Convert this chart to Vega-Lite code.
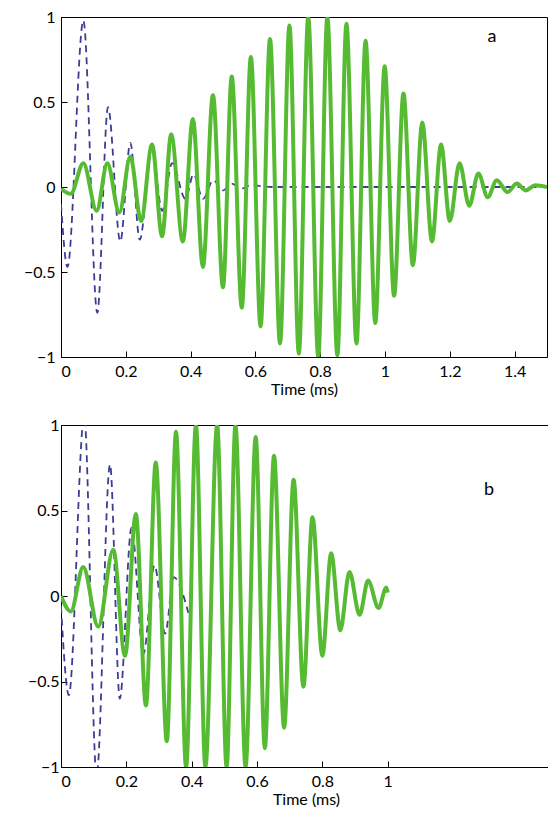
{
  "$schema": "https://vega.github.io/schema/vega-lite/v6.json",
  "padding": {"top": 8, "left": 22, "right": 0, "bottom": 5},
  "background": "white",
  "config": {
    "font": "Lato",
    "view": {"stroke": "black", "strokeWidth": 1},
    "axis": {"labelFont": "Lato", "labelFontSize": 16, "labelColor": "black", "titleFont": "Lato", "titleFontSize": 16, "titleFontWeight": "normal", "titleColor": "black", "grid": false, "tickColor": "black", "domainColor": "black", "tickSize": -6, "labelPadding": 12, "titlePadding": 2, "format": "~g"}
  },
  "datasets": {
    "waves": [
      {"p": "a", "s": "green", "t": 0, "v": -0.01},
      {"p": "a", "s": "green", "t": 0.03, "v": -0.04},
      {"p": "a", "s": "green", "t": 0.069, "v": 0.14},
      {"p": "a", "s": "green", "t": 0.11, "v": -0.14},
      {"p": "a", "s": "green", "t": 0.143, "v": 0.14},
      {"p": "a", "s": "green", "t": 0.18, "v": -0.15},
      {"p": "a", "s": "green", "t": 0.214, "v": 0.18},
      {"p": "a", "s": "green", "t": 0.247, "v": -0.2},
      {"p": "a", "s": "green", "t": 0.281, "v": 0.25},
      {"p": "a", "s": "green", "t": 0.312, "v": -0.29},
      {"p": "a", "s": "green", "t": 0.34, "v": 0.31},
      {"p": "a", "s": "green", "t": 0.376, "v": -0.32},
      {"p": "a", "s": "green", "t": 0.407, "v": 0.4},
      {"p": "a", "s": "green", "t": 0.438, "v": -0.47},
      {"p": "a", "s": "green", "t": 0.469, "v": 0.54},
      {"p": "a", "s": "green", "t": 0.5, "v": -0.59},
      {"p": "a", "s": "green", "t": 0.527, "v": 0.65},
      {"p": "a", "s": "green", "t": 0.558, "v": -0.71},
      {"p": "a", "s": "green", "t": 0.586, "v": 0.765},
      {"p": "a", "s": "green", "t": 0.616, "v": -0.82},
      {"p": "a", "s": "green", "t": 0.645, "v": 0.87},
      {"p": "a", "s": "green", "t": 0.676, "v": -0.92},
      {"p": "a", "s": "green", "t": 0.705, "v": 0.95},
      {"p": "a", "s": "green", "t": 0.734, "v": -0.98},
      {"p": "a", "s": "green", "t": 0.763, "v": 1.0},
      {"p": "a", "s": "green", "t": 0.794, "v": -1.0},
      {"p": "a", "s": "green", "t": 0.822, "v": 1.0},
      {"p": "a", "s": "green", "t": 0.853, "v": -0.99},
      {"p": "a", "s": "green", "t": 0.881, "v": 0.96},
      {"p": "a", "s": "green", "t": 0.912, "v": -0.92},
      {"p": "a", "s": "green", "t": 0.94, "v": 0.86},
      {"p": "a", "s": "green", "t": 0.97, "v": -0.8},
      {"p": "a", "s": "green", "t": 0.999, "v": 0.71},
      {"p": "a", "s": "green", "t": 1.028, "v": -0.64},
      {"p": "a", "s": "green", "t": 1.057, "v": 0.55},
      {"p": "a", "s": "green", "t": 1.086, "v": -0.46},
      {"p": "a", "s": "green", "t": 1.115, "v": 0.38},
      {"p": "a", "s": "green", "t": 1.145, "v": -0.32},
      {"p": "a", "s": "green", "t": 1.173, "v": 0.25},
      {"p": "a", "s": "green", "t": 1.2, "v": -0.2},
      {"p": "a", "s": "green", "t": 1.23, "v": 0.14},
      {"p": "a", "s": "green", "t": 1.26, "v": -0.11},
      {"p": "a", "s": "green", "t": 1.288, "v": 0.08},
      {"p": "a", "s": "green", "t": 1.317, "v": -0.06},
      {"p": "a", "s": "green", "t": 1.345, "v": 0.04},
      {"p": "a", "s": "green", "t": 1.378, "v": -0.03},
      {"p": "a", "s": "green", "t": 1.407, "v": 0.02},
      {"p": "a", "s": "green", "t": 1.434, "v": -0.02},
      {"p": "a", "s": "green", "t": 1.464, "v": 0.01},
      {"p": "a", "s": "green", "t": 1.5, "v": 0},
      {"p": "a", "s": "blue", "t": 0, "v": -0.1},
      {"p": "a", "s": "blue", "t": 0.02, "v": -0.47},
      {"p": "a", "s": "blue", "t": 0.069, "v": 0.98},
      {"p": "a", "s": "blue", "t": 0.112, "v": -0.74},
      {"p": "a", "s": "blue", "t": 0.145, "v": 0.47},
      {"p": "a", "s": "blue", "t": 0.183, "v": -0.32},
      {"p": "a", "s": "blue", "t": 0.214, "v": 0.26},
      {"p": "a", "s": "blue", "t": 0.243, "v": -0.31},
      {"p": "a", "s": "blue", "t": 0.281, "v": 0.23},
      {"p": "a", "s": "blue", "t": 0.312, "v": -0.14},
      {"p": "a", "s": "blue", "t": 0.343, "v": 0.14},
      {"p": "a", "s": "blue", "t": 0.384, "v": -0.07},
      {"p": "a", "s": "blue", "t": 0.409, "v": 0.075},
      {"p": "a", "s": "blue", "t": 0.438, "v": -0.07},
      {"p": "a", "s": "blue", "t": 0.47, "v": 0.04},
      {"p": "a", "s": "blue", "t": 0.5, "v": -0.02},
      {"p": "a", "s": "blue", "t": 0.527, "v": 0.02},
      {"p": "a", "s": "blue", "t": 0.556, "v": -0.01},
      {"p": "a", "s": "blue", "t": 0.586, "v": 0.01},
      {"p": "a", "s": "blue", "t": 0.65, "v": 0},
      {"p": "a", "s": "blue", "t": 1.5, "v": 0},
      {"p": "b", "s": "green", "t": 0, "v": 0},
      {"p": "b", "s": "green", "t": 0.03, "v": -0.09},
      {"p": "b", "s": "green", "t": 0.068, "v": 0.17},
      {"p": "b", "s": "green", "t": 0.114, "v": -0.18},
      {"p": "b", "s": "green", "t": 0.16, "v": 0.27},
      {"p": "b", "s": "green", "t": 0.196, "v": -0.35},
      {"p": "b", "s": "green", "t": 0.229, "v": 0.48},
      {"p": "b", "s": "green", "t": 0.26, "v": -0.64},
      {"p": "b", "s": "green", "t": 0.29, "v": 0.78},
      {"p": "b", "s": "green", "t": 0.324, "v": -0.85},
      {"p": "b", "s": "green", "t": 0.352, "v": 0.96},
      {"p": "b", "s": "green", "t": 0.383, "v": -1.0},
      {"p": "b", "s": "green", "t": 0.413, "v": 1.0},
      {"p": "b", "s": "green", "t": 0.442, "v": -1.0},
      {"p": "b", "s": "green", "t": 0.478, "v": 1.0},
      {"p": "b", "s": "green", "t": 0.507, "v": -1.0},
      {"p": "b", "s": "green", "t": 0.534, "v": 1.0},
      {"p": "b", "s": "green", "t": 0.565, "v": -1.0},
      {"p": "b", "s": "green", "t": 0.596, "v": 0.93},
      {"p": "b", "s": "green", "t": 0.624, "v": -0.89},
      {"p": "b", "s": "green", "t": 0.652, "v": 0.82},
      {"p": "b", "s": "green", "t": 0.683, "v": -0.77},
      {"p": "b", "s": "green", "t": 0.712, "v": 0.68},
      {"p": "b", "s": "green", "t": 0.742, "v": -0.53},
      {"p": "b", "s": "green", "t": 0.77, "v": 0.46},
      {"p": "b", "s": "green", "t": 0.8, "v": -0.35},
      {"p": "b", "s": "green", "t": 0.827, "v": 0.25},
      {"p": "b", "s": "green", "t": 0.855, "v": -0.2},
      {"p": "b", "s": "green", "t": 0.883, "v": 0.14},
      {"p": "b", "s": "green", "t": 0.914, "v": -0.11},
      {"p": "b", "s": "green", "t": 0.94, "v": 0.09},
      {"p": "b", "s": "green", "t": 0.972, "v": -0.07},
      {"p": "b", "s": "green", "t": 0.996, "v": 0.05},
      {"p": "b", "s": "green", "t": 1.0, "v": 0.02},
      {"p": "b", "s": "blue", "t": 0, "v": -0.06},
      {"p": "b", "s": "blue", "t": 0.024, "v": -0.58},
      {"p": "b", "s": "blue", "t": 0.071, "v": 1.05},
      {"p": "b", "s": "blue", "t": 0.109, "v": -1.05},
      {"p": "b", "s": "blue", "t": 0.15, "v": 0.77},
      {"p": "b", "s": "blue", "t": 0.18, "v": -0.6},
      {"p": "b", "s": "blue", "t": 0.216, "v": 0.4},
      {"p": "b", "s": "blue", "t": 0.252, "v": -0.34},
      {"p": "b", "s": "blue", "t": 0.286, "v": 0.18},
      {"p": "b", "s": "blue", "t": 0.319, "v": -0.22},
      {"p": "b", "s": "blue", "t": 0.345, "v": 0.11},
      {"p": "b", "s": "blue", "t": 0.39, "v": -0.1}
    ],
    "tags": [
      {"p": "a", "t": 1.33, "v": 0.88, "label": "a"},
      {"p": "b", "t": 1.31, "v": 0.62, "label": "b"}
    ]
  },
  "spacing": 18,
  "vconcat": [
    {
      "width": 486,
      "height": 340,
      "layer": [
        {
          "data": {"name": "waves"},
          "transform": [{"filter": "datum.p == 'a' && datum.s == 'blue'"}],
          "mark": {"type": "line", "color": "#3d3d94", "strokeWidth": 1.8, "strokeDash": [7, 5], "interpolate": "monotone", "clip": true},
          "encoding": {
            "x": {"field": "t", "type": "quantitative", "scale": {"domain": [0, 1.5], "nice": false}, "axis": {"title": "Time (ms)", "values": [0, 0.2, 0.4, 0.6, 0.8, 1, 1.2, 1.4]}},
            "y": {"field": "v", "type": "quantitative", "scale": {"domain": [-1, 1], "nice": false}, "axis": {"title": null, "values": [-1, -0.5, 0, 0.5, 1]}}
          }
        },
        {
          "data": {"name": "waves"},
          "transform": [{"filter": "datum.p == 'a' && datum.s == 'green'"}],
          "mark": {"type": "line", "color": "#56bb33", "strokeWidth": 4, "interpolate": "monotone", "clip": true},
          "encoding": {
            "x": {"field": "t", "type": "quantitative"},
            "y": {"field": "v", "type": "quantitative"}
          }
        },
        {
          "data": {"name": "tags"},
          "transform": [{"filter": "datum.p == 'a'"}],
          "mark": {"type": "text", "fontSize": 18, "font": "Lato", "color": "black"},
          "encoding": {
            "x": {"field": "t", "type": "quantitative"},
            "y": {"field": "v", "type": "quantitative"},
            "text": {"field": "label"}
          }
        }
      ]
    },
    {
      "width": 490,
      "height": 342,
      "layer": [
        {
          "data": {"name": "waves"},
          "transform": [{"filter": "datum.p == 'b' && datum.s == 'blue'"}],
          "mark": {"type": "line", "color": "#3d3d94", "strokeWidth": 1.8, "strokeDash": [7, 5], "interpolate": "monotone", "clip": true},
          "encoding": {
            "x": {"field": "t", "type": "quantitative", "scale": {"domain": [0, 1.5], "nice": false}, "axis": {"title": "Time (ms)", "values": [0, 0.2, 0.4, 0.6, 0.8, 1]}},
            "y": {"field": "v", "type": "quantitative", "scale": {"domain": [-1, 1], "nice": false}, "axis": {"title": null, "values": [-1, -0.5, 0, 0.5, 1], "labelPadding": 8}}
          }
        },
        {
          "data": {"name": "waves"},
          "transform": [{"filter": "datum.p == 'b' && datum.s == 'green'"}],
          "mark": {"type": "line", "color": "#56bb33", "strokeWidth": 4, "interpolate": "monotone", "clip": true},
          "encoding": {
            "x": {"field": "t", "type": "quantitative"},
            "y": {"field": "v", "type": "quantitative"}
          }
        },
        {
          "data": {"name": "tags"},
          "transform": [{"filter": "datum.p == 'b'"}],
          "mark": {"type": "text", "fontSize": 18, "font": "Lato", "color": "black"},
          "encoding": {
            "x": {"field": "t", "type": "quantitative"},
            "y": {"field": "v", "type": "quantitative"},
            "text": {"field": "label"}
          }
        }
      ]
    }
  ]
}
